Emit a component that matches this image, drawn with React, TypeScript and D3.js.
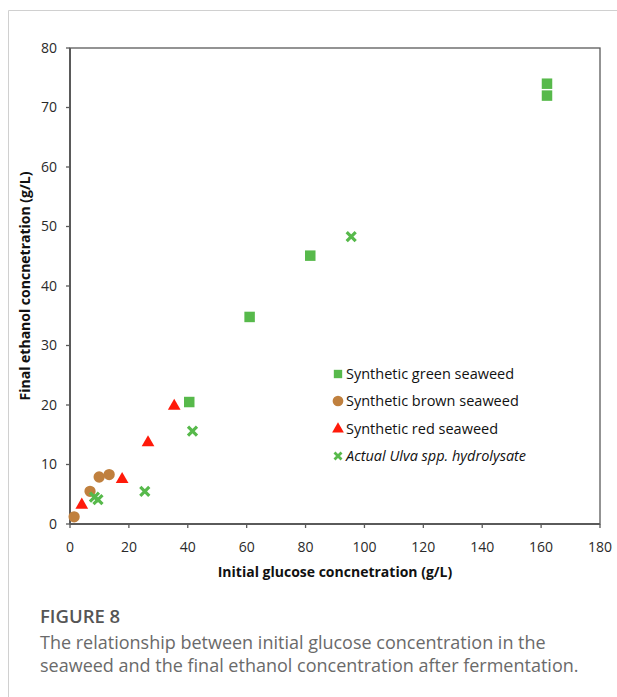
import * as d3 from 'd3';

const xTicks = [0, 20, 40, 60, 80, 100, 120, 140, 160, 180];
const yTicks = [0, 10, 20, 30, 40, 50, 60, 70, 80];

const greenX = [40.5, 61, 81.6, 162, 162];
const greenY = [20.5, 34.8, 45.1, 72.0, 74.0];
const brownX = [1.4, 6.8, 9.9, 13.3];
const brownY = [1.2, 5.5, 7.9, 8.3];
const redX = [4.0, 17.7, 26.5, 35.4];
const redY = [3.2, 7.5, 13.7, 19.8];
const ulvaX = [8.3, 9.5, 25.4, 41.6, 95.5];
const ulvaY = [4.5, 4.1, 5.5, 15.6, 48.3];

const legendLabels = [
  'Synthetic green seaweed',
  'Synthetic brown seaweed',
  'Synthetic red seaweed',
  'Actual Ulva spp. hydrolysate',
];

const GREEN = '#57b94b';
const BROWN = '#c0803e';
const RED = '#ff1a0a';
const AXIS = '#5a5a5a';
const FONT = '"Open Sans", "DejaVu Sans", sans-serif';

const zip = (xs: number[], ys: number[]) => xs.map((x, i) => [x, ys[i]]);

export default function App() {
  const W = 617, H = 697;
  const x = d3.scaleLinear().domain([0, 180]).range([70, 600]);
  const y = d3.scaleLinear().domain([0, 80]).range([524, 48]);

  const square = d3.symbol(d3.symbolSquare, 110)()!;
  const circle = d3.symbol(d3.symbolCircle, 100)()!;
  const triangle = d3.symbol(d3.symbolTriangle, 70)()!;
  const cross = 'M-4.5,-4.5L4.5,4.5M4.5,-4.5L-4.5,4.5';

  const legendY = [374, 401, 429, 456];
  const legendMarks = [
    <path d={d3.symbol(d3.symbolSquare, 70)()!} fill={GREEN} />,
    <path d={d3.symbol(d3.symbolCircle, 90)()!} fill={BROWN} />,
    <path d={d3.symbol(d3.symbolTriangle, 60)()!} fill={RED} />,
    <path d="M-3.5,-3.5L3.5,3.5M3.5,-3.5L-3.5,3.5" stroke={GREEN} strokeWidth={2.8} fill="none" />,
  ];

  return (
    <div style={{ position: 'absolute', left: 0, top: 0 }}>
      <svg width={W} height={H} style={{ display: 'block' }}>
        <rect width={W} height={H} fill="#fff" />
        {/* panel border */}
        <line x1={8.5} x2={W} y1={10.5} y2={10.5} stroke="#d0d0d0" />
        <line x1={8.5} x2={8.5} y1={10.5} y2={H} stroke="#d0d0d0" />

        {/* frame */}
        <rect x={x(0)} y={y(80)} width={x(180) - x(0)} height={y(0) - y(80)}
          fill="none" stroke={AXIS} strokeWidth={1.3} />
        <line x1={x(0)} x2={x(0)} y1={y(0)} y2={y(80)} stroke={AXIS} strokeWidth={2} />
        <line x1={x(0)} x2={x(180)} y1={y(0)} y2={y(0)} stroke={AXIS} strokeWidth={2} />

        {xTicks.map((t) => (
          <g key={'x' + t}>
            <line x1={x(t)} x2={x(t)} y1={y(0)} y2={y(0) + 4} stroke={AXIS} strokeWidth={1.3} />
            <text x={x(t)} y={y(0) + 28} textAnchor="middle" fontFamily={FONT} fontSize={14} fill="#2a2a2a">{t}</text>
          </g>
        ))}
        {yTicks.map((t) => (
          <g key={'y' + t}>
            <line x1={x(0) - 4} x2={x(0)} y1={y(t)} y2={y(t)} stroke={AXIS} strokeWidth={1.3} />
            <text x={x(0) - 13} y={y(t)} dy="0.35em" textAnchor="end" fontFamily={FONT} fontSize={14} fill="#2a2a2a">{t}</text>
          </g>
        ))}

        <text x={(x(0) + x(180)) / 2} y={577} textAnchor="middle" fontFamily={FONT} fontSize={14} fontWeight="bold" fill="#111">
          Initial glucose concnetration (g/L)
        </text>
        <text transform={`translate(30,${(y(0) + y(80)) / 2}) rotate(-90)`} textAnchor="middle" fontFamily={FONT} fontSize={14} fontWeight="bold" fill="#111">
          Final ethanol concnetration (g/L)
        </text>

        {zip(greenX, greenY).map(([a, b], i) => (
          <path key={'g' + i} d={square} transform={`translate(${x(a)},${y(b)})`} fill={GREEN} />
        ))}
        {zip(brownX, brownY).map(([a, b], i) => (
          <path key={'b' + i} d={circle} transform={`translate(${x(a)},${y(b)})`} fill={BROWN} />
        ))}
        {zip(redX, redY).map(([a, b], i) => (
          <path key={'r' + i} d={triangle} transform={`translate(${x(a)},${y(b)})`} fill={RED} />
        ))}
        {zip(ulvaX, ulvaY).map(([a, b], i) => (
          <path key={'u' + i} d={cross} transform={`translate(${x(a)},${y(b)})`} stroke={GREEN} strokeWidth={3.2} fill="none" />
        ))}

        {legendLabels.map((l, i) => (
          <g key={'l' + i} transform={`translate(338,${legendY[i]})`}>
            {legendMarks[i]}
            <text x={8} dy="0.35em" fontFamily={FONT} fontSize={14.5} fill="#111" fontStyle={i === 3 ? 'italic' : 'normal'}>{l}</text>
          </g>
        ))}

        <text x={40} y={623} fontFamily={FONT} fontSize={18.5} fontWeight={600} fill="#555">FIGURE 8</text>
        <text x={40} y={649} fontFamily={FONT} fontSize={18} fill="#6a6a6a">
          The relationship between initial glucose concentration in the
        </text>
        <text x={40} y={672} fontFamily={FONT} fontSize={18} fill="#6a6a6a">
          seaweed and the final ethanol concentration after fermentation.
        </text>
      </svg>
    </div>
  );
}
